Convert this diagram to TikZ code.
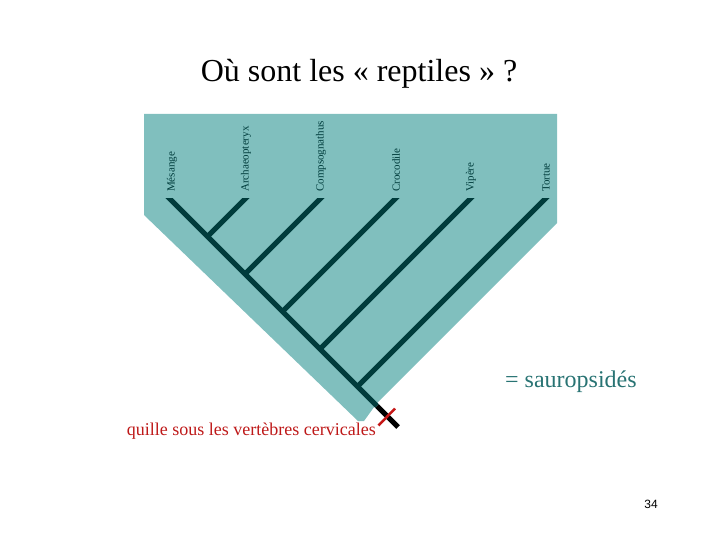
\documentclass[tikz,border=0pt]{standalone}
\usepackage{fontspec}
\setmainfont{Liberation Serif}
\newfontfamily\numfont{Liberation Sans}
\definecolor{cladefill}{RGB}{128,191,190}
\definecolor{branchcol}{RGB}{0,60,60}
\definecolor{sauro}{RGB}{40,115,115}
\definecolor{quille}{RGB}{190,25,25}
\tikzset{
  branch/.style={draw=branchcol,line width=5pt},
  taxon/.style={rotate=90,anchor=west,inner sep=0pt,text=branchcol,font=\fontsize{11}{11}\selectfont},
}
\begin{document}
\begin{tikzpicture}[x=1pt,y=-1pt]
\useasboundingbox (0,0) rectangle (720,540);
\fill[cladefill] (144,114) -- (557,114) -- (557,223) -- (377,403) -- (364,421) -- (358,421) -- (144,215) -- cycle;
\node[font=\fontsize{32}{32}\selectfont,anchor=base] (titre) at (359,82) {Où sont les «~reptiles~» ?};
\node[taxon] (mes) at (172,192) {Mésange};
\node[taxon] (arc) at (246,192) {Archaeopteryx};
\node[taxon] (com) at (321,192) {Compsognathus};
\node[taxon] (cro) at (396,192) {Crocodile};
\node[taxon] (vip) at (471,192) {Vipère};
\node[taxon] (tor) at (546,192) {Tortue};
\coordinate (t1) at (165,194);
\coordinate (t2) at (250,194);
\coordinate (t3) at (325,194);
\coordinate (t4) at (400,194);
\coordinate (t5) at (475,194);
\coordinate (t6) at (550,194);
\coordinate (j1) at (207.5,236.5);
\coordinate (j2) at (245,274);
\coordinate (j3) at (282.5,311.5);
\coordinate (j4) at (320,349);
\coordinate (j5) at (357.5,386.5);
\coordinate (r) at (377,406);
\coordinate (r0) at (398,427);
\begin{scope}
\clip (100,199) rectangle (600,450);
\draw[branch] (t1) -- (j1) -- (j2) -- (j3) -- (j4) -- (j5) -- (r);
\draw[branch] (t2) -- (j1);
\draw[branch] (t3) -- (j2);
\draw[branch] (t4) -- (j3);
\draw[branch] (t5) -- (j4);
\draw[branch] (t6) -- (j5);
\end{scope}
\draw[line width=5pt,black] (r) -- (r0);
\coordinate (c1) at (378.5,425.5);
\coordinate (c2) at (395,408.5);
\draw[line width=2.5pt,quille!90!red] (c1) -- (c2);
\node[anchor=base east,inner sep=0pt,text=quille,font=\fontsize{18}{18}\selectfont] (q) at (376,435) {quille sous les vertèbres cervicales};
\node[anchor=base west,inner sep=0pt,text=sauro,font=\fontsize{24}{24}\selectfont] (s) at (505,387) {= sauropsidés};
\node[font=\numfont\fontsize{12}{12}\selectfont] (num) at (651,504) {34};
\end{tikzpicture}
\end{document}
